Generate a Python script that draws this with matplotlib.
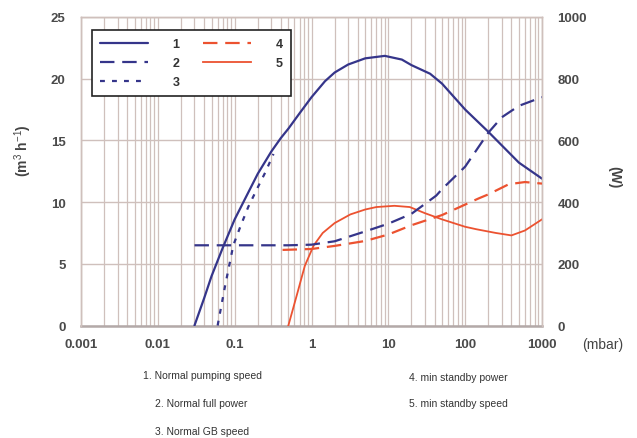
import matplotlib
matplotlib.use("Agg")
import matplotlib.pyplot as plt
from matplotlib.ticker import LogLocator, FixedLocator, NullFormatter, FixedFormatter

plt.rcParams['font.family'] = ['Liberation Sans', 'DejaVu Sans']
plt.rcParams['mathtext.fontset'] = 'custom'
plt.rcParams['mathtext.rm'] = 'Liberation Sans'

# ---- data ----
# 1. Normal pumping speed (m3/h)
p1 = [0.03, 0.04, 0.05, 0.07, 0.1, 0.14, 0.2, 0.3, 0.4, 0.5, 0.7, 1, 1.5, 2, 3, 5, 9,
      15, 20, 35, 50, 100, 200, 500, 1000]
v1 = [0, 2.2, 4.0, 6.3, 8.6, 10.4, 12.3, 14.1, 15.2, 15.95, 17.2, 18.5, 19.8, 20.5, 21.15,
      21.65, 21.85, 21.55, 21.1, 20.4, 19.6, 17.5, 15.7, 13.2, 11.9]
# 2. Normal full power (W)
p2 = [0.03, 0.1, 0.5, 1, 2, 5, 10, 20, 42, 50, 100, 200, 300, 500, 1000]
w2 = [260, 260, 260, 262, 273, 305, 330, 362, 421, 442, 515, 625, 675, 712, 740]
# 3. Normal GB speed (m3/h)
p3 = [0.06, 0.075, 0.096, 0.12, 0.15, 0.2, 0.25, 0.32]
v3 = [0, 3.2, 6.5, 8.1, 9.6, 11.2, 12.4, 13.9]
# 4. min standby power (W)
p4 = [0.42, 1, 2, 5, 10, 20, 50, 100, 150, 200, 370, 600, 1000]
w4 = [245, 248, 258, 274, 295, 325, 358, 392, 412, 425, 458, 465, 460]
# 5. min standby speed (m3/h)
p5 = [0.5, 0.64, 0.82, 1.07, 1.4, 2, 3.2, 5, 7, 12, 19, 30, 50, 100, 140, 250, 400, 600, 1000]
v5 = [0, 2.4, 4.85, 6.5, 7.5, 8.3, 9.0, 9.4, 9.6, 9.7, 9.6, 9.1, 8.6, 8.0, 7.8, 7.5, 7.3, 7.7, 8.6]

xticks = [0.001, 0.01, 0.1, 1, 10, 100, 1000]
xticklabels = ['0.001', '0.01', '0.1', '1', '10', '100', '1000']
yticks_left = [0, 5, 10, 15, 20, 25]
yticks_right = [0, 200, 400, 600, 800, 1000]
legend_labels = ['1', '2', '3', '4', '5']
notes_left = ['1. Normal pumping speed', '2. Normal full power', '3. Normal GB speed']
notes_right = ['4. min standby power', '5. min standby speed']

navy = '#35358a'
red = '#ec5230'
grid_c = '#cfc0bc'
tick_c = '#4a4a4a'

fig = plt.figure(figsize=(6.37, 4.39), dpi=100)
ax = fig.add_axes([81/637, 1-326.5/439, (542-81)/637, (326.5-18)/439])
ax2 = ax.twinx()

ax.set_xscale('log')
ax.set_xlim(0.001, 1000)
ax.set_ylim(0, 25)
ax2.set_ylim(0, 1000)

ax.xaxis.set_major_locator(FixedLocator(xticks))
ax.xaxis.set_major_formatter(FixedFormatter(xticklabels))
ax.xaxis.set_minor_locator(LogLocator(base=10, subs=range(2, 10), numticks=100))
ax.xaxis.set_minor_formatter(NullFormatter())
ax.set_yticks(yticks_left)
ax2.set_yticks(yticks_right)

ax.grid(True, which='both', axis='x', color=grid_c, lw=0.9)
ax.grid(True, which='major', axis='y', color=grid_c, lw=1.0)
ax.set_axisbelow(True)

for a in (ax, ax2):
    for s in a.spines.values():
        s.set_color(grid_c)
        s.set_linewidth(1.0)
ax.spines['bottom'].set_color('#b3a9a8')
ax.spines['bottom'].set_linewidth(1.8)
ax2.spines['bottom'].set_visible(False)

ax.tick_params(axis='both', which='both', length=0)
ax.tick_params(axis='x', pad=9, labelsize=9.5, labelcolor=tick_c)
ax.tick_params(axis='y', pad=11, labelsize=9.5, labelcolor=tick_c)
ax2.tick_params(axis='y', length=0, pad=11, labelsize=9.5, labelcolor=tick_c)
for lab in ax.get_xticklabels() + ax.get_yticklabels() + ax2.get_yticklabels():
    lab.set_fontweight('bold')

l1, = ax.plot(p1, v1, color=navy, lw=1.6, solid_capstyle='round', solid_joinstyle='round', zorder=5)
l3, = ax.plot(p3, v3, color=navy, lw=1.6, linestyle=(0, (2.2, 3.2)), zorder=5)
l5, = ax.plot(p5, v5, color=red, lw=1.3, solid_joinstyle='round', zorder=5)
l2, = ax2.plot(p2, w2, color=navy, lw=1.6, linestyle=(0, (6.5, 3.5)), zorder=5)
l4, = ax2.plot(p4, w4, color=red, lw=1.6, linestyle=(0, (6.5, 3.5)), zorder=5)

leg = ax2.legend([l1, l2, l3, l4, l5], legend_labels, ncol=2,
                 loc='upper left', bbox_to_anchor=(92/637, 1-31/439),
                 bbox_transform=fig.transFigure,
                 frameon=True, fancybox=False, framealpha=1, edgecolor='#222222',
                 handlelength=3.8, handletextpad=2.0, columnspacing=1.9,
                 labelspacing=0.55, borderpad=0.65, borderaxespad=0,
                 prop={'weight': 'bold', 'size': 9})
leg.get_frame().set_linewidth(1.2)
for t in leg.get_texts():
    t.set_color('#333333')

fig.text(582/637, 1-345/439, '(mbar)', fontsize=10, color='#444444', va='center', ha='left')
fig.text(23/637, 1-151/439, r'(m$^{3}$ h$^{-1}$)', fontsize=10, color='#444444',
         rotation=90, va='center', ha='center', fontweight='bold')
fig.text(614/637, 1-177/439, '(W)', fontsize=10, color='#444444',
         rotation=270, va='center', ha='center', fontweight='bold')

fig.text(143/637, 1-376/439, notes_left[0], fontsize=7.5, color='#333333', va='center')
fig.text(155/637, 1-404/439, notes_left[1], fontsize=7.5, color='#333333', va='center')
fig.text(155/637, 1-432/439, notes_left[2], fontsize=7.5, color='#333333', va='center')
fig.text(409/637, 1-378/439, notes_right[0], fontsize=7.5, color='#333333', va='center')
fig.text(409/637, 1-404/439, notes_right[1], fontsize=7.5, color='#333333', va='center')

fig.savefig('out.png', dpi=100, facecolor='white')
